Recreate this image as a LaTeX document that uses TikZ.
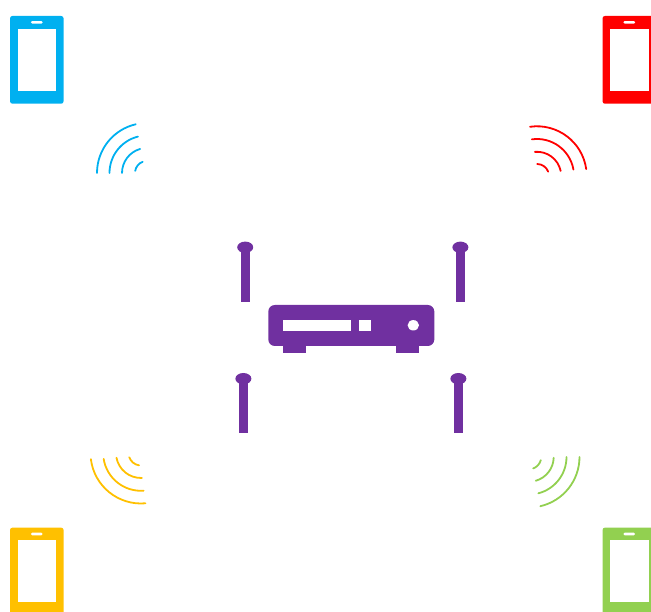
\documentclass[tikz,border=0pt]{standalone}
\usepackage{tikz}
\usetikzlibrary{positioning, shapes.geometric}
\definecolor{wifiblue}{HTML}{00B0F0}
\definecolor{wifired}{HTML}{FF0000}
\definecolor{wifiyellow}{HTML}{FFC000}
\definecolor{wifigreen}{HTML}{92D050}
\definecolor{routerpurple}{HTML}{7030A0}
\tikzset{
  solid box/.style={inner sep=0pt, outer sep=0pt, minimum width=#1},
  phonebody/.style={solid box=53.6pt, minimum height=87.8pt, rounded corners=2.5pt},
  phonescreen/.style={solid box=38.4pt, minimum height=62pt, fill=white},
  phonespeaker/.style={solid box=11.8pt, minimum height=2.6pt, rounded corners=1.3pt, fill=white},
  routerpart/.style={inner sep=0pt, outer sep=0pt, fill=routerpurple},
  antennatip/.style={routerpart, ellipse, minimum width=16pt, minimum height=11.4pt},
  antennastem/.style={routerpart, minimum width=8.6pt, minimum height=54.5pt},
  signal/.style={line width=1.8pt, line cap=round}
}

\begin{document}
\begin{tikzpicture}[x=1pt, y=1pt]
\useasboundingbox (0,0) rectangle (651,612);
% phones
\foreach \name/\col/\px/\py in {blue/wifiblue/36.8/552.15, red/wifired/629.3/552.15, yellow/wifiyellow/36.8/40.5, green/wifigreen/629.3/40.5} {
  \node[phonebody, fill=\col] (phone\name) at (\px,\py) {};
  \node[phonescreen] (screen\name) at (phone\name.center) {};
  \node[phonespeaker] (speaker\name) at ([yshift=37.5pt]phone\name.center) {};
}
% signal arcs
\foreach \rad/\from/\to in {50/180/103,37.5/180/104,25/180/106,12/170/111}
  \draw[signal, wifiblue] (147,439) ++(\from:\rad) arc (\from:\to:\rad);
\foreach \rad/\from/\to in {49.7/98/8,37/98/10,24.2/95/12,12/89/21}
  \draw[signal, wifired] (537,436) ++(\from:\rad) arc (\from:\to:\rad);
\foreach \rad/\from/\to in {50.5/187/275,37.8/189/274,25/191/272,12.5/200/261}
  \draw[signal, wifiyellow] (141,159) ++(\from:\rad) arc (\from:\to:\rad);
\foreach \rad/\from/\to in {50.5/0/-77,37.5/0/-75.6,24.7/-2/-74,12.2/-15/-70}
  \draw[signal, wifigreen] (529,155) ++(\from:\rad) arc (\from:\to:\rad);
% router
\node[routerpart, minimum width=23pt, minimum height=8pt] (footleft) at (294.7,263.2) {};
\node[routerpart, minimum width=23pt, minimum height=8pt] (footright) at (407.8,263.2) {};
\node[routerpart, minimum width=166pt, minimum height=41pt, rounded corners=6.5pt] (router) at (351.3,286.5) {};
\node[fill=white, inner sep=0pt, minimum width=68pt, minimum height=10.4pt] (slot) at (317.3,286.5) {};
\node[fill=white, inner sep=0pt, minimum width=11.3pt, minimum height=10.4pt, right=7.7pt of slot] (port) {};
\node[fill=white, inner sep=0pt, ellipse, minimum width=11.4pt, minimum height=10.4pt] (lamp) at (413.3,286.7) {};
% antennas
\foreach \name/\px/\py in {a/245.2/364.7, b/460.4/364.7, c/243.4/233.3, d/458.4/233.3} {
  \node[antennatip] (tip\name) at (\px,\py) {};
  \node[antennastem, below=0pt of tip\name.center] (stem\name) {};
}
\end{tikzpicture}
\end{document}
